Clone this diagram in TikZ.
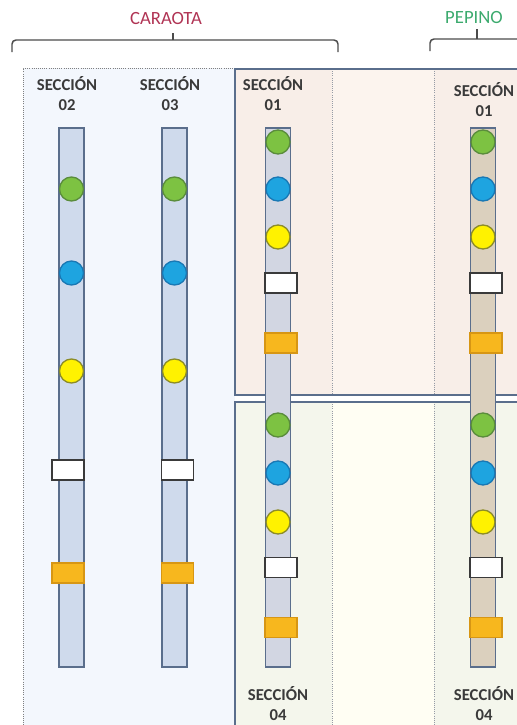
\documentclass[tikz,border=0pt]{standalone}
\usepackage{fontspec}
\setmainfont{Carlito}
\usepackage{xcolor}
\definecolor{TextGray}{RGB}{58,58,58}
\definecolor{BraceGray}{RGB}{75,75,75}
\definecolor{CaraRed}{RGB}{176,52,84}
\definecolor{PepGreen}{RGB}{60,170,110}
\definecolor{PanelBlue}{RGB}{243,247,253}
\definecolor{PeachA}{RGB}{248,238,232}
\definecolor{PeachB}{RGB}{252,244,238}
\definecolor{CreamA}{RGB}{244,246,236}
\definecolor{CreamB}{RGB}{255,254,243}
\definecolor{FrameBlue}{RGB}{90,110,140}
\definecolor{SepGray}{RGB}{150,155,165}
\definecolor{BarBlue}{RGB}{207,218,236}
\definecolor{BarLilac}{RGB}{210,214,226}
\definecolor{BarTan}{RGB}{219,208,190}
\definecolor{FillGreen}{RGB}{125,194,66}
\definecolor{BorderGreen}{RGB}{90,140,60}
\definecolor{FillBlue}{RGB}{30,164,224}
\definecolor{BorderBlue}{RGB}{25,120,180}
\definecolor{FillYellow}{RGB}{255,242,0}
\definecolor{BorderYellow}{RGB}{140,140,40}
\definecolor{FillOrange}{RGB}{247,183,30}
\definecolor{BorderOrange}{RGB}{215,150,20}
\usepackage{tikz}
\usetikzlibrary{positioning}
\tikzset{
  % Crop titles
  croptitle/.style={font=\fontsize{14}{16}\selectfont, inner sep=0pt},
  % Section labels
  seclabel/.style={
    align=center, text=TextGray, inner sep=0pt,
    font=\fontsize{12.5}{15}\selectfont\bfseries
  },
  % Brackets over the crops
  brace/.style={draw=BraceGray, line width=1.1pt, rounded corners=3pt},
  % Plant rows
  bar/.style={
    rectangle, draw=FrameBlue, line width=0.9pt, fill=BarBlue,
    minimum width=18.75pt, minimum height=404.25pt, inner sep=0pt
  },
  bar lilac/.style={bar, fill=BarLilac},
  bar tan/.style={bar, fill=BarTan},
  % Markers on the rows
  dot/.style={circle, line width=1pt, minimum size=18pt, inner sep=0pt},
  dot green/.style={dot, fill=FillGreen, draw=BorderGreen},
  dot blue/.style={dot, fill=FillBlue, draw=BorderBlue},
  dot yellow/.style={dot, fill=FillYellow, draw=BorderYellow},
  tag/.style={
    rectangle, line width=1pt, minimum width=24pt, minimum height=15pt,
    inner sep=0pt, fill=white, draw=TextGray
  },
  tag orange/.style={tag, fill=FillOrange, draw=BorderOrange},
  % Panel frames
  frame/.style={draw=FrameBlue, line width=1pt},
  sep/.style={draw=SepGray, densely dotted, line width=0.6pt},
}

\begin{document}
\begin{tikzpicture}[x=0.75pt, y=-0.75pt]

  \useasboundingbox (0,0) rectangle (517,725);
  \clip (0,0) rectangle (517,725);

  %% Background panels
  \fill[PanelBlue] (23,68) rectangle (235,740);
  \draw[sep, draw=gray] (23,740) -- (23,68) -- (235,68);

  \fill[PeachA] (235,69) rectangle (332,395);
  \fill[PeachB] (332,69) rectangle (434,395);
  \fill[PeachA] (434,69) rectangle (530,395);
  \draw[sep] (332,69) -- (332,395);
  \draw[sep] (434,69) -- (434,395);
  \draw[frame] (235,69) rectangle (530,395);

  \fill[CreamA] (235,402) rectangle (332,740);
  \fill[CreamB] (332,402) rectangle (434,740);
  \fill[CreamA] (434,402) rectangle (530,740);
  \draw[sep] (332,402) -- (332,740);
  \draw[sep] (434,402) -- (434,740);
  \draw[frame] (235,740) -- (235,402) -- (530,402);

  %% Crop titles and brackets
  \node[croptitle, text=CaraRed] (caraota) at (166,19) {CARAOTA};
  \node[croptitle, text=PepGreen] (pepino) at (474,18) {PEPINO};

  \draw[brace] (12,52) -- (12,40) -- (338,40) -- (338,52);
  \draw[brace] (173,40) -- (173,33);
  \draw[brace] (430,51) -- (430,39) -- (530,39);
  \draw[brace] (477,39) -- (477,29);

  %% Section labels
  \node[seclabel] (s02) at (67,94)   {SECCIÓN\\02};
  \node[seclabel] (s03) at (170,94)  {SECCIÓN\\03};
  \node[seclabel] (s01) at (273,94)  {SECCIÓN\\01};
  \node[seclabel] (sP1) at (484,100) {SECCIÓN\\01};
  \node[seclabel] (s04) at (278,704) {SECCIÓN\\04};
  \node[seclabel] (sP4) at (484,704) {SECCIÓN\\04};

  %% Rows
  \node[bar]       (bar02) at (71.5,397.5)  {};
  \node[bar]       (bar03) at (174.5,397.5) {};
  \node[bar lilac] (bar01) at (278,397.5)   {};
  \node[bar tan]   (barP)  at (483,397.5)   {};

  %% Section 02
  \node[dot green]  (g02) at (71.5,189) {};
  \node[dot blue]   (b02) at (71.5,273) {};
  \node[dot yellow] (y02) at (71.5,371) {};
  \node[tag]        (w02) at (68,470)   {};
  \node[tag orange] (o02) at (68,573)   {};

  %% Section 03
  \node[dot green]  (g03) at (174.5,189) {};
  \node[dot blue]   (b03) at (174.5,273) {};
  \node[dot yellow] (y03) at (174.5,371) {};
  \node[tag]        (w03) at (177.5,470) {};
  \node[tag orange] (o03) at (177.5,573) {};

  %% Section 01
  \node[dot green]  (g01) at (278,142) {};
  \node[dot blue]   (b01) at (278,189) {};
  \node[dot yellow] (y01) at (278,237) {};
  \node[tag]        (w01) at (281,283) {};
  \node[tag orange] (o01) at (281,343) {};

  %% Section 04
  \node[dot green]  (g04) at (278,425)   {};
  \node[dot blue]   (b04) at (278,473)   {};
  \node[dot yellow] (y04) at (278,522)   {};
  \node[tag]        (w04) at (281,567.5) {};
  \node[tag orange] (o04) at (281,627.5) {};

  %% Pepino, section 01
  \node[dot green]  (gP1) at (483,142) {};
  \node[dot blue]   (bP1) at (483,189) {};
  \node[dot yellow] (yP1) at (483,237) {};
  \node[tag]        (wP1) at (486,283) {};
  \node[tag orange] (oP1) at (486,343) {};

  %% Pepino, section 04
  \node[dot green]  (gP4) at (483,425)   {};
  \node[dot blue]   (bP4) at (483,473)   {};
  \node[dot yellow] (yP4) at (483,522)   {};
  \node[tag]        (wP4) at (486,567.5) {};
  \node[tag orange] (oP4) at (486,627.5) {};

\end{tikzpicture}
\end{document}
